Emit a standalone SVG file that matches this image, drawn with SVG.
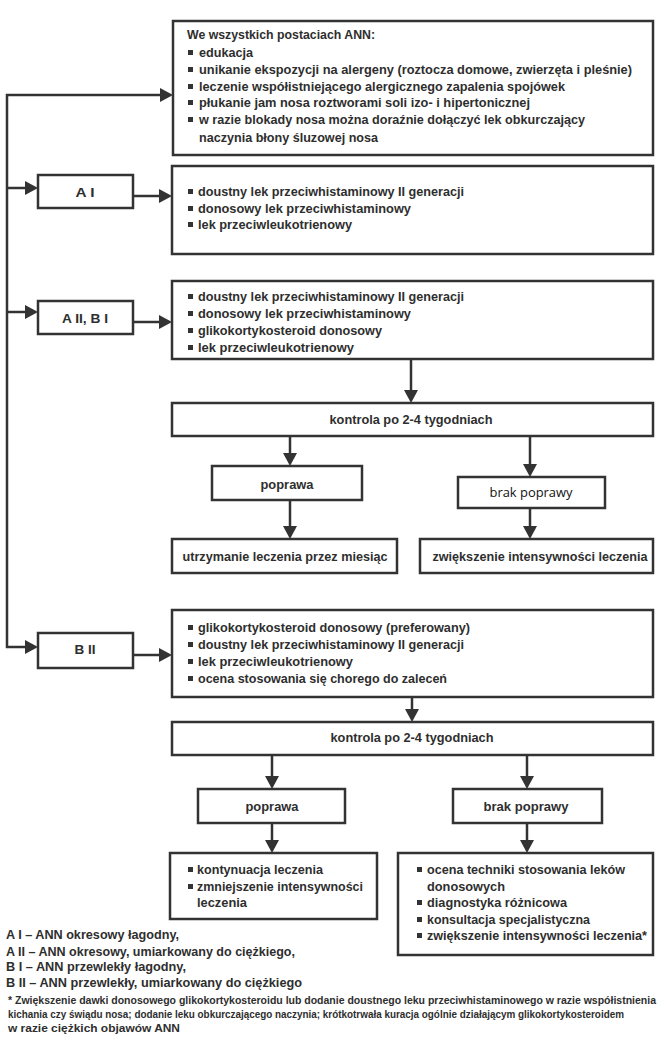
<svg xmlns="http://www.w3.org/2000/svg" width="662" height="1039" viewBox="0 0 662 1039">
<style>
.box{fill:none;stroke:#333;stroke-width:2.5}
.wbox{fill:#fff;stroke:#333;stroke-width:2.5}
.t{font-family:"Liberation Sans Narrow","Liberation Sans",Arial,sans-serif;font-weight:bold;font-size:13px;fill:#2e2e2e}
.c{text-anchor:middle}
.fn{font-size:10.5px}
.reg{font-family:"Open Sans","Liberation Sans",Arial,sans-serif;font-weight:normal;font-size:13.5px;fill:#111}
.b{fill:#333}
.conn{fill:none;stroke:#333;stroke-width:2.5}
</style>
<defs>
<marker id="ah" viewBox="0 0 13 14" markerWidth="13" markerHeight="14" refX="5" refY="7" orient="auto" markerUnits="userSpaceOnUse">
<path d="M0,0 L13,7 L0,14 z" fill="#333"/>
</marker>
</defs>
<rect width="662" height="1039" fill="#fff"/>

<g id="connectors">
<path class="conn" d="M164,95 H7 V647 H30" marker-end="url(#ah)"/>
<path class="conn" d="M164,95 H165" marker-end="url(#ah)"/>
<path class="conn" d="M7,188 H30" marker-end="url(#ah)"/>
<path class="conn" d="M7,312 H30" marker-end="url(#ah)"/>
<path class="conn" d="M133,196 H164" marker-end="url(#ah)"/>
<path class="conn" d="M133,322 H164" marker-end="url(#ah)"/>
<path class="conn" d="M133,655 H164" marker-end="url(#ah)"/>
<path class="conn" d="M411,359 V395" marker-end="url(#ah)"/>
<path class="conn" d="M290,436 V458" marker-end="url(#ah)"/>
<path class="conn" d="M530,436 V469" marker-end="url(#ah)"/>
<path class="conn" d="M290,500 V531" marker-end="url(#ah)"/>
<path class="conn" d="M530,508 V531" marker-end="url(#ah)"/>
<path class="conn" d="M412,697 V714" marker-end="url(#ah)"/>
<path class="conn" d="M272,755 V781" marker-end="url(#ah)"/>
<path class="conn" d="M527,755 V781" marker-end="url(#ah)"/>
<path class="conn" d="M272,823 V845" marker-end="url(#ah)"/>
<path class="conn" d="M527,823 V845" marker-end="url(#ah)"/>
</g>

<g id="all-forms">
<rect class="box" x="173" y="21" width="480" height="134"/>
<text class="t" x="187" y="39" textLength="188" lengthAdjust="spacingAndGlyphs">We wszystkich postaciach ANN:</text>
<rect class="b" x="188" y="50" width="5" height="5"/>
<text class="t" x="199" y="57" textLength="54" lengthAdjust="spacingAndGlyphs">edukacja</text>
<rect class="b" x="188" y="67" width="5" height="5"/>
<text class="t" x="199" y="74" textLength="433" lengthAdjust="spacingAndGlyphs">unikanie ekspozycji na alergeny (roztocza domowe, zwierzęta i pleśnie)</text>
<rect class="b" x="188" y="84" width="5" height="5"/>
<text class="t" x="199" y="91" textLength="366" lengthAdjust="spacingAndGlyphs">leczenie współistniejącego alergicznego zapalenia spojówek</text>
<rect class="b" x="188" y="100" width="5" height="5"/>
<text class="t" x="199" y="107" textLength="331" lengthAdjust="spacingAndGlyphs">płukanie jam nosa roztworami soli izo- i hipertonicznej</text>
<rect class="b" x="188" y="117" width="5" height="5"/>
<text class="t" x="199" y="124" textLength="386" lengthAdjust="spacingAndGlyphs">w razie blokady nosa można doraźnie dołączyć lek obkurczający</text>
<text class="t" x="199" y="142" textLength="179" lengthAdjust="spacingAndGlyphs">naczynia błony śluzowej nosa</text>
</g>

<g id="AI">
<rect class="box" x="38" y="175" width="95" height="33"/>
<text class="t c" x="85" y="197" textLength="19" lengthAdjust="spacingAndGlyphs">A I</text>
</g>

<g id="AI-treatment">
<rect class="box" x="172" y="166" width="481" height="88"/>
<rect class="b" x="188" y="189" width="5" height="5"/>
<text class="t" x="198" y="196" textLength="266" lengthAdjust="spacingAndGlyphs">doustny lek przeciwhistaminowy II generacji</text>
<rect class="b" x="188" y="206" width="5" height="5"/>
<text class="t" x="198" y="213" textLength="213" lengthAdjust="spacingAndGlyphs">donosowy lek przeciwhistaminowy</text>
<rect class="b" x="188" y="222" width="5" height="5"/>
<text class="t" x="198" y="229" textLength="154" lengthAdjust="spacingAndGlyphs">lek przeciwleukotrienowy</text>
</g>

<g id="AII-BI">
<rect class="box" x="38" y="301" width="95" height="33"/>
<text class="t c" x="85" y="323" textLength="46" lengthAdjust="spacingAndGlyphs">A II, B I</text>
</g>

<g id="AII-BI-treatment">
<rect class="box" x="172" y="281" width="481" height="78"/>
<rect class="b" x="188" y="294" width="5" height="5"/>
<text class="t" x="198" y="301" textLength="266" lengthAdjust="spacingAndGlyphs">doustny lek przeciwhistaminowy II generacji</text>
<rect class="b" x="188" y="311" width="5" height="5"/>
<text class="t" x="198" y="318" textLength="213" lengthAdjust="spacingAndGlyphs">donosowy lek przeciwhistaminowy</text>
<rect class="b" x="188" y="328" width="5" height="5"/>
<text class="t" x="198" y="335" textLength="184" lengthAdjust="spacingAndGlyphs">glikokortykosteroid donosowy</text>
<rect class="b" x="188" y="345" width="5" height="5"/>
<text class="t" x="198" y="352" textLength="156" lengthAdjust="spacingAndGlyphs">lek przeciwleukotrienowy</text>
</g>

<g id="control-1">
<rect class="box" x="172" y="403" width="481" height="33"/>
<text class="t c" x="411" y="424" textLength="163" lengthAdjust="spacingAndGlyphs">kontrola po 2-4 tygodniach</text>
</g>

<g id="improvement-1">
<rect class="box" x="212" y="466" width="150" height="34"/>
<text class="t c" x="287" y="489" textLength="53" lengthAdjust="spacingAndGlyphs">poprawa</text>
</g>

<g id="no-improvement-1">
<rect class="wbox" x="458" y="477" width="147" height="31"/>
<text class="reg c" x="531" y="497" textLength="83" lengthAdjust="spacingAndGlyphs">brak poprawy</text>
</g>

<g id="maintain-1">
<rect class="box" x="172" y="539" width="225" height="34"/>
<text class="t c" x="285" y="561" textLength="205" lengthAdjust="spacingAndGlyphs">utrzymanie leczenia przez miesiąc</text>
</g>

<g id="step-up-1">
<rect class="box" x="420" y="539" width="233" height="34"/>
<text class="t c" x="540" y="561" textLength="215" lengthAdjust="spacingAndGlyphs">zwiększenie intensywności leczenia</text>
</g>

<g id="BII">
<rect class="box" x="38" y="633" width="95" height="35"/>
<text class="t c" x="85" y="654" textLength="21" lengthAdjust="spacingAndGlyphs">B II</text>
</g>

<g id="BII-treatment">
<rect class="box" x="172" y="610" width="481" height="87"/>
<rect class="b" x="188" y="625" width="5" height="5"/>
<text class="t" x="198" y="632" textLength="272" lengthAdjust="spacingAndGlyphs">glikokortykosteroid donosowy (preferowany)</text>
<rect class="b" x="188" y="642" width="5" height="5"/>
<text class="t" x="198" y="649" textLength="266" lengthAdjust="spacingAndGlyphs">doustny lek przeciwhistaminowy II generacji</text>
<rect class="b" x="188" y="659" width="5" height="5"/>
<text class="t" x="198" y="666" textLength="155" lengthAdjust="spacingAndGlyphs">lek przeciwleukotrienowy</text>
<rect class="b" x="188" y="676" width="5" height="5"/>
<text class="t" x="198" y="683" textLength="249" lengthAdjust="spacingAndGlyphs">ocena stosowania się chorego do zaleceń</text>
</g>

<g id="control-2">
<rect class="box" x="172" y="722" width="481" height="33"/>
<text class="t c" x="412" y="742" textLength="163" lengthAdjust="spacingAndGlyphs">kontrola po 2-4 tygodniach</text>
</g>

<g id="improvement-2">
<rect class="box" x="198" y="789" width="147" height="34"/>
<text class="t c" x="272" y="811" textLength="53" lengthAdjust="spacingAndGlyphs">poprawa</text>
</g>

<g id="no-improvement-2">
<rect class="box" x="453" y="789" width="149" height="34"/>
<text class="t c" x="526" y="811" textLength="85" lengthAdjust="spacingAndGlyphs">brak poprawy</text>
</g>

<g id="continue-2">
<rect class="box" x="170" y="853" width="207" height="66"/>
<rect class="b" x="188" y="867" width="5" height="5"/>
<text class="t" x="197" y="874" textLength="126" lengthAdjust="spacingAndGlyphs">kontynuacja leczenia</text>
<rect class="b" x="188" y="884" width="5" height="5"/>
<text class="t" x="197" y="891" textLength="166" lengthAdjust="spacingAndGlyphs">zmniejszenie intensywności</text>
<text class="t" x="197" y="907" textLength="50" lengthAdjust="spacingAndGlyphs">leczenia</text>
</g>

<g id="step-up-2">
<rect class="box" x="398" y="853" width="255" height="102"/>
<rect class="b" x="417" y="867" width="5" height="5"/>
<text class="t" x="427" y="874" textLength="198" lengthAdjust="spacingAndGlyphs">ocena techniki stosowania leków</text>
<text class="t" x="427" y="891" textLength="78" lengthAdjust="spacingAndGlyphs">donosowych</text>
<rect class="b" x="417" y="900" width="5" height="5"/>
<text class="t" x="427" y="907" textLength="140" lengthAdjust="spacingAndGlyphs">diagnostyka różnicowa</text>
<rect class="b" x="417" y="917" width="5" height="5"/>
<text class="t" x="427" y="924" textLength="163" lengthAdjust="spacingAndGlyphs">konsultacja specjalistyczna</text>
<rect class="b" x="417" y="933" width="5" height="5"/>
<text class="t" x="427" y="940" textLength="220" lengthAdjust="spacingAndGlyphs">zwiększenie intensywności leczenia*</text>
</g>

<g id="legend">
<text class="t" x="6" y="939" textLength="173" lengthAdjust="spacingAndGlyphs">A I – ANN okresowy łagodny,</text>
<text class="t" x="6" y="956" textLength="289" lengthAdjust="spacingAndGlyphs">A II – ANN okresowy, umiarkowany do ciężkiego,</text>
<text class="t" x="6" y="971" textLength="180" lengthAdjust="spacingAndGlyphs">B I – ANN przewlekły łagodny,</text>
<text class="t" x="6" y="987" textLength="296" lengthAdjust="spacingAndGlyphs">B II – ANN przewlekły, umiarkowany do ciężkiego</text>
<text class="t fn" x="8" y="1004" textLength="648" lengthAdjust="spacingAndGlyphs">* Zwiększenie dawki donosowego glikokortykosteroidu lub dodanie  doustnego leku przeciwhistaminowego w razie współistnienia</text>
<text class="t fn" x="8" y="1018" textLength="616" lengthAdjust="spacingAndGlyphs">kichania czy świądu nosa; dodanie leku obkurczającego naczynia; krótkotrwała kuracja ogólnie działającym glikokortykosteroidem</text>
<text class="t fn" x="8" y="1032" textLength="172" lengthAdjust="spacingAndGlyphs">w razie ciężkich objawów ANN</text>
</g>
</svg>
